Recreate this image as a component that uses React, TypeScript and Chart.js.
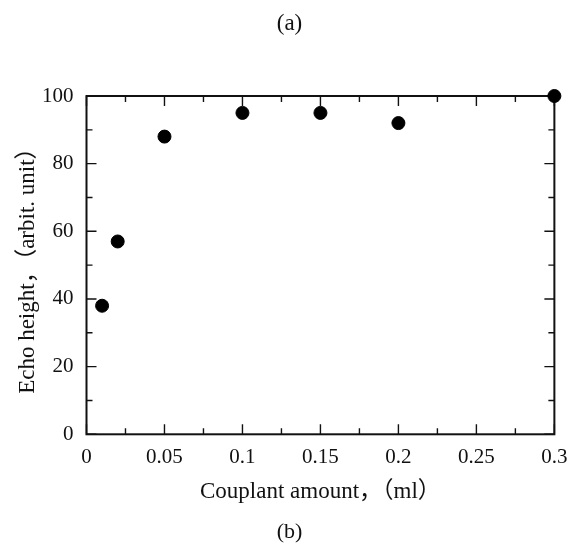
import React, { useEffect, useRef } from "react";
import { Chart, registerables } from "chart.js";

Chart.register(...registerables);

// Couplant amount (ml) vs. echo height (arbitrary units)
const couplantMl = [0.01, 0.02, 0.05, 0.1, 0.15, 0.2, 0.3];
const echoHeight = [38, 57, 88, 95, 95, 92, 100];

const xTickValues = [0, 0.05, 0.1, 0.15, 0.2, 0.25, 0.3];
const yTickValues = [0, 20, 40, 60, 80, 100];

const xTitle = "Couplant amount，（ml）";
const yTitle = "Echo height，（arbit. unit）";
const topLabel = "(a)";
const bottomLabel = "(b)";

const FONT = "'Liberation Serif', 'Noto Sans CJK JP', serif";

const midpoints = (vals: number[]) =>
  vals.slice(0, -1).map((v, i) => (v + vals[i + 1]) / 2);

// Draws a closed box around the plot area with inward major/minor ticks on all sides
const boxTicks = {
  id: "boxTicks",
  beforeDatasetsDraw(chart: any) {
    const { ctx, chartArea, scales } = chart;
    const { left, right, top, bottom } = chartArea;
    const xs = scales.x;
    const ys = scales.y;
    ctx.save();
    ctx.strokeStyle = "#111";
    ctx.lineWidth = 2;
    ctx.strokeRect(left, top, right - left, bottom - top);
    ctx.lineWidth = 1.4;
    const major = 10;
    const minor = 6;
    ctx.beginPath();
    const xTick = (v: number, len: number) => {
      const px = xs.getPixelForValue(v);
      ctx.moveTo(px, bottom);
      ctx.lineTo(px, bottom - len);
      ctx.moveTo(px, top);
      ctx.lineTo(px, top + len);
    };
    const yTick = (v: number, len: number) => {
      const py = ys.getPixelForValue(v);
      ctx.moveTo(left, py);
      ctx.lineTo(left + len, py);
      ctx.moveTo(right, py);
      ctx.lineTo(right - len, py);
    };
    xTickValues.forEach((v) => xTick(v, major));
    midpoints(xTickValues).forEach((v) => xTick(v, minor));
    yTickValues.forEach((v) => yTick(v, major));
    midpoints(yTickValues).forEach((v) => yTick(v, minor));
    ctx.stroke();
    ctx.restore();
  },
};

export default function App() {
  const canvasRef = useRef<HTMLCanvasElement | null>(null);

  useEffect(() => {
    document.body.style.margin = "0";
    const canvas = canvasRef.current;
    if (!canvas) return;
    const chart = new Chart(canvas, {
      type: "scatter",
      data: {
        datasets: [
          {
            data: couplantMl.map((x, i) => ({ x, y: echoHeight[i] })),
            backgroundColor: "#000",
            borderColor: "#000",
            pointRadius: 6.5,
            pointHoverRadius: 6.5,
            clip: false,
          },
        ],
      },
      options: {
        responsive: false,
        animation: false,
        devicePixelRatio: 1,
        layout: { padding: { left: 16, right: 15, top: 0, bottom: 0 } },
        plugins: {
          legend: { display: false },
          tooltip: { enabled: false },
          title: {
            display: true,
            text: topLabel,
            color: "#111",
            font: { family: FONT, size: 23, weight: "normal", lineHeight: 1 },
            padding: { top: 12.5, bottom: 60.5 },
          },
          subtitle: {
            display: true,
            text: bottomLabel,
            position: "bottom",
            color: "#111",
            font: { family: FONT, size: 22, weight: "normal", lineHeight: 1 },
            padding: { top: 17.5, bottom: 0 },
          },
        },
        scales: {
          x: {
            type: "linear",
            min: 0,
            max: 0.3,
            afterBuildTicks: (axis: any) => {
              axis.ticks = xTickValues.map((value) => ({ value }));
            },
            ticks: {
              color: "#111",
              padding: 10.5,
              font: { family: FONT, size: 21 },
              callback: (v: any) => String(Number(v)),
              maxRotation: 0,
            },
            grid: { display: true, drawOnChartArea: false, drawTicks: false },
            border: { display: false },
            title: {
              display: true,
              text: xTitle,
              color: "#111",
              font: { family: FONT, size: 23, lineHeight: 1 },
              padding: { top: 0, bottom: 0 },
            },
          },
          y: {
            type: "linear",
            min: 0,
            max: 100,
            afterBuildTicks: (axis: any) => {
              axis.ticks = yTickValues.map((value) => ({ value }));
            },
            ticks: {
              color: "#111",
              padding: 13,
              font: { family: FONT, size: 21 },
            },
            grid: { display: true, drawOnChartArea: false, drawTicks: false },
            border: { display: false },
            title: {
              display: true,
              text: yTitle,
              color: "#111",
              font: { family: FONT, size: 23, lineHeight: 1 },
              padding: { top: 0, bottom: -10 },
            },
          },
        },
      },
      plugins: [boxTicks],
    });
    return () => chart.destroy();
  }, []);

  return <canvas ref={canvasRef} width={578} height={543} style={{ display: "block" }} />;
}
